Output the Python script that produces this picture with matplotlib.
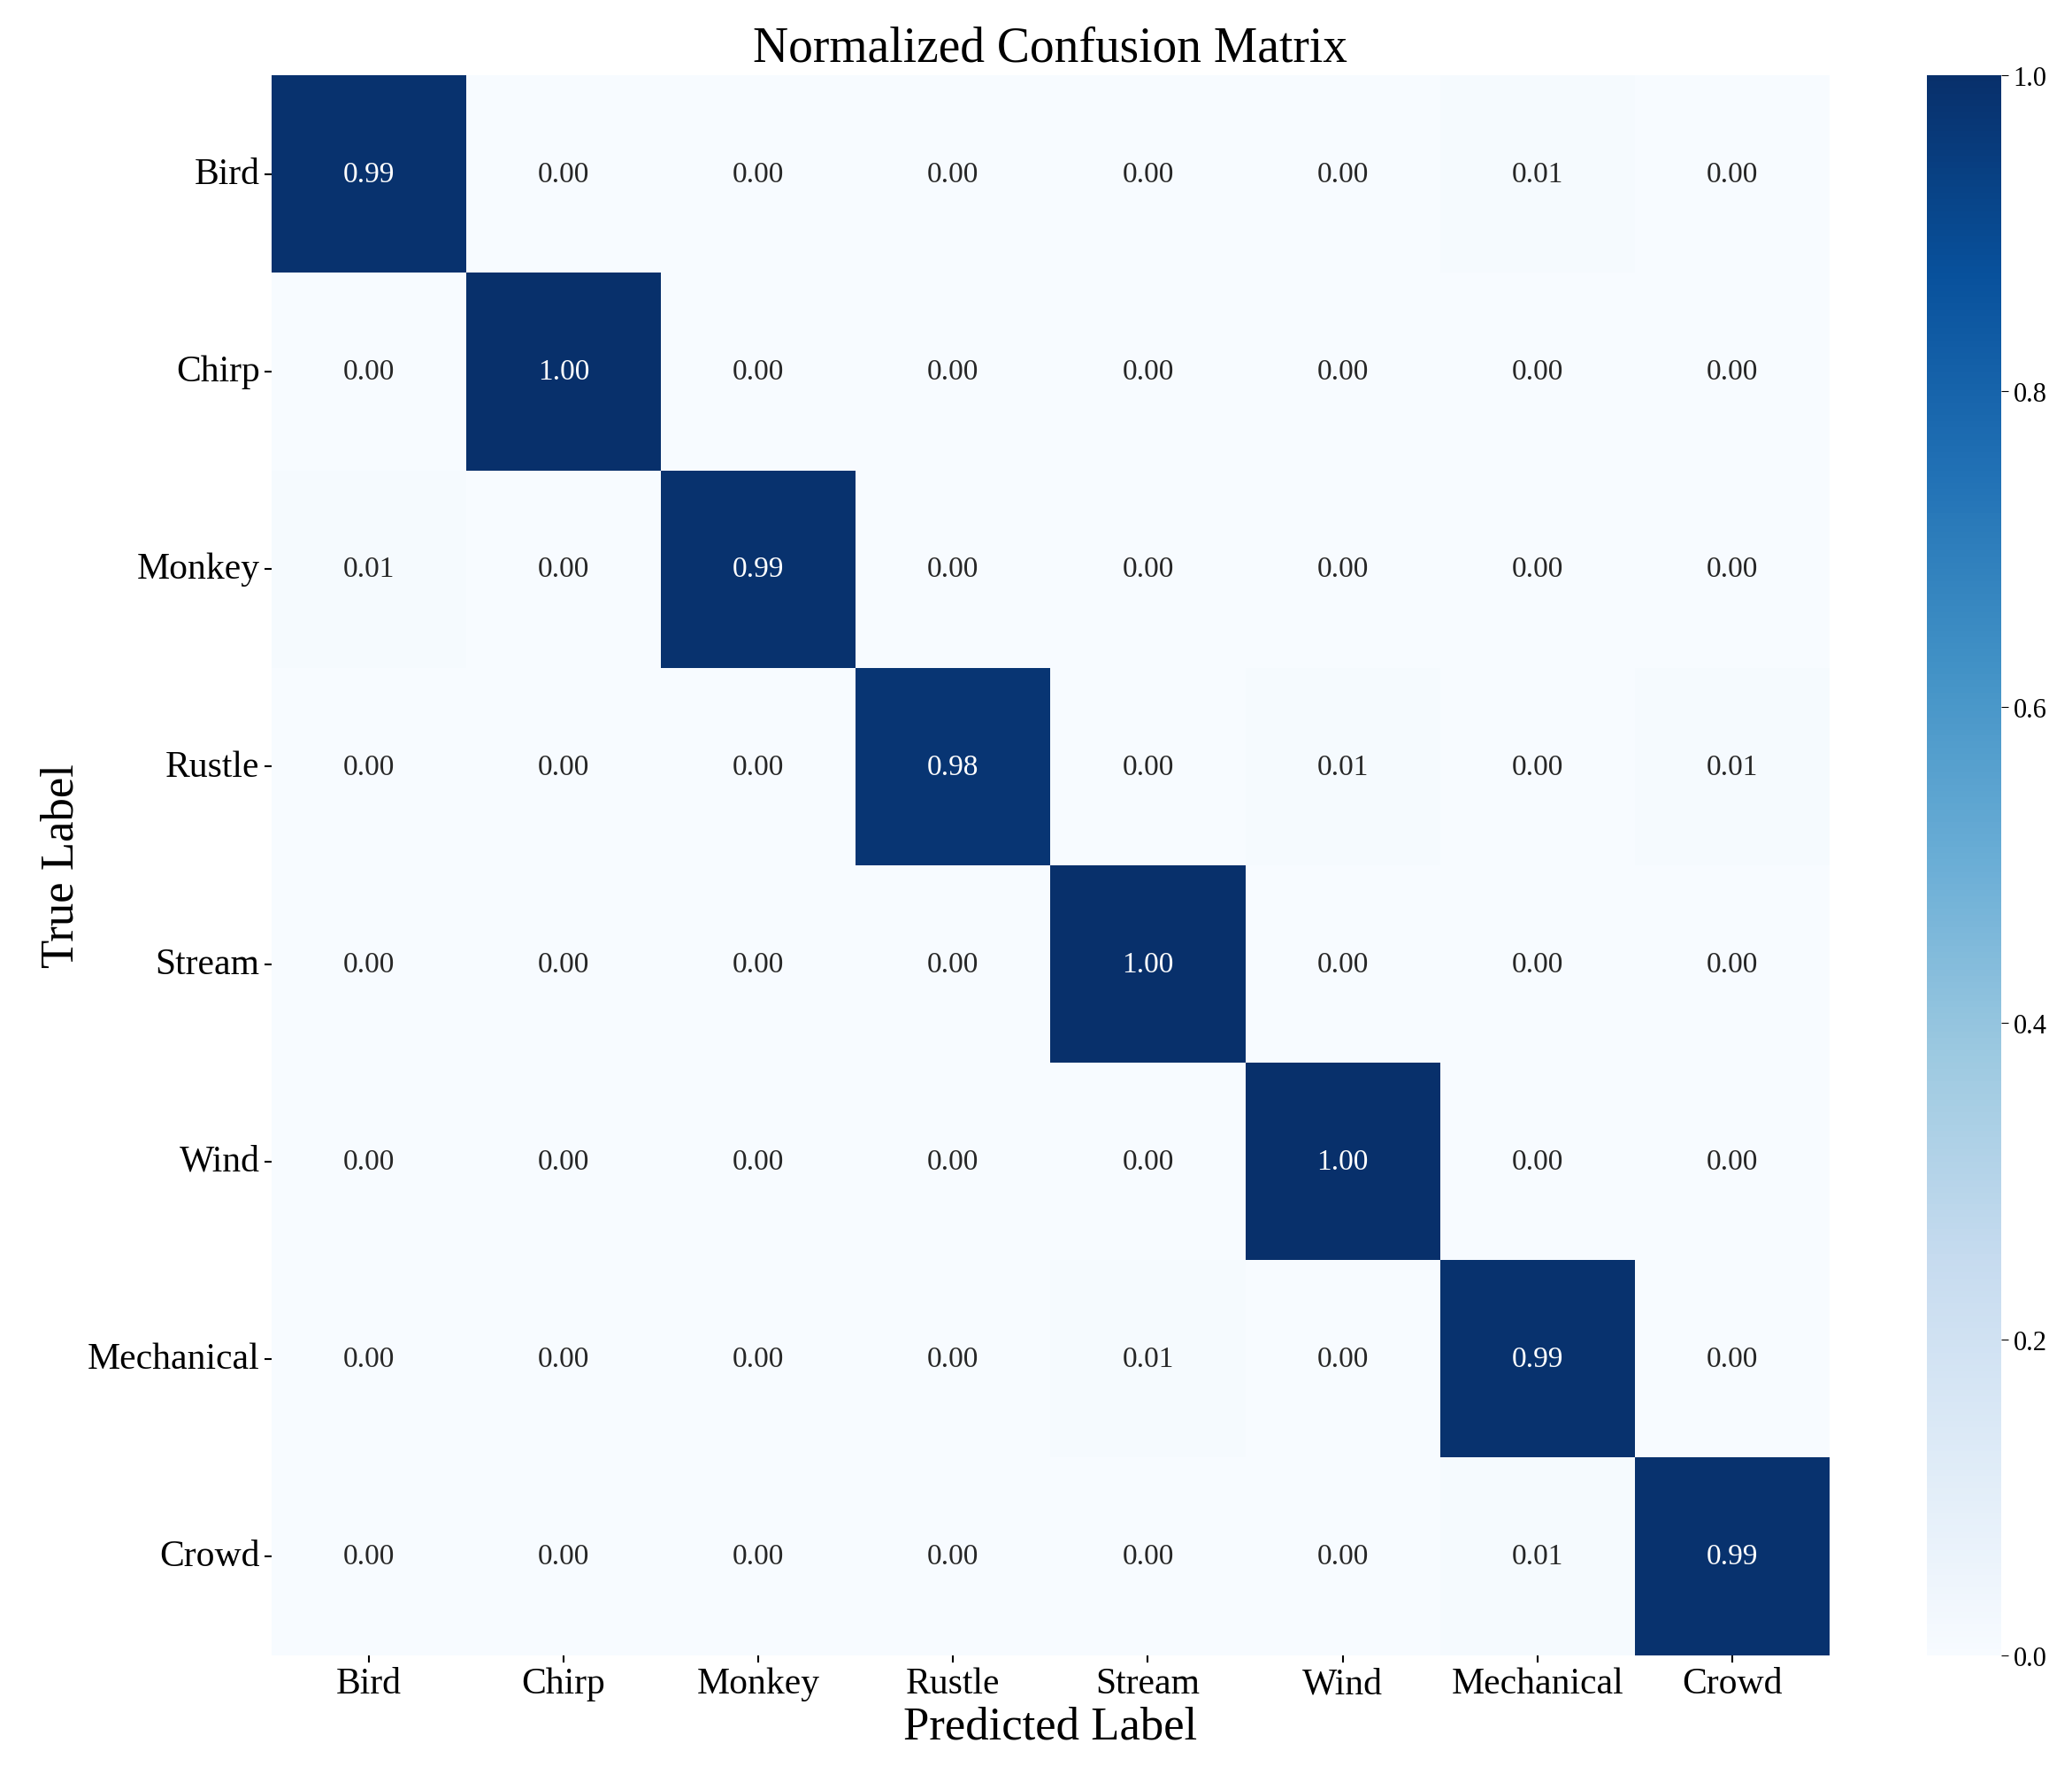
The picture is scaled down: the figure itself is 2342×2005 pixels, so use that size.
import matplotlib.pyplot as plt
import numpy as np
import seaborn as sns

plt.rcParams['font.family'] = 'Liberation Serif'

labels = ['Bird', 'Chirp', 'Monkey', 'Rustle', 'Stream', 'Wind', 'Mechanical', 'Crowd']
cm = np.array([
    [0.99, 0.00, 0.00, 0.00, 0.00, 0.00, 0.01, 0.00],
    [0.00, 1.00, 0.00, 0.00, 0.00, 0.00, 0.00, 0.00],
    [0.01, 0.00, 0.99, 0.00, 0.00, 0.00, 0.00, 0.00],
    [0.00, 0.00, 0.00, 0.98, 0.00, 0.01, 0.00, 0.01],
    [0.00, 0.00, 0.00, 0.00, 1.00, 0.00, 0.00, 0.00],
    [0.00, 0.00, 0.00, 0.00, 0.00, 1.00, 0.00, 0.00],
    [0.00, 0.00, 0.00, 0.00, 0.01, 0.00, 0.99, 0.00],
    [0.00, 0.00, 0.00, 0.00, 0.00, 0.00, 0.01, 0.99],
])

fig = plt.figure(figsize=(23.42, 20.06), dpi=100)
ax = fig.add_axes([0.131, 0.067, 0.752, 0.89])
cax = fig.add_axes([0.930, 0.067, 0.036, 0.89])

sns.heatmap(cm, annot=True, fmt='.2f', cmap='Blues', vmin=0, vmax=1,
            xticklabels=labels, yticklabels=labels, ax=ax, cbar_ax=cax,
            annot_kws={'fontsize': 24})

ax.set_title('Normalized Confusion Matrix', fontsize=40, pad=12)
ax.set_xlabel('Predicted Label', fontsize=38)
ax.set_ylabel('True Label', fontsize=38)
ax.tick_params(axis='both', labelsize=30, length=6, width=1.5)
plt.setp(ax.get_yticklabels(), rotation=0)
plt.setp(ax.get_xticklabels(), rotation=0)
cax.tick_params(labelsize=22, length=6)
cax.set_yticks([0.0, 0.2, 0.4, 0.6, 0.8, 1.0])

fig.savefig('out.png', dpi=100)
plt.close()
